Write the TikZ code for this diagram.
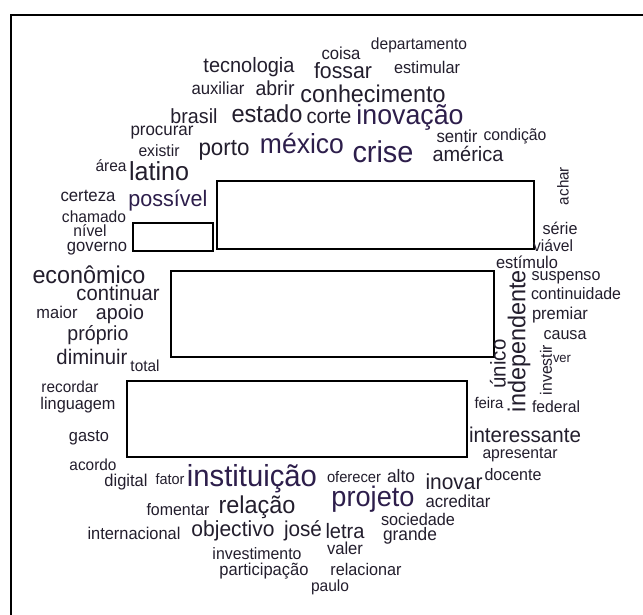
\documentclass[tikz,border=0pt]{standalone}
\usepackage{fontspec}
\usepackage{graphicx}
\setmainfont{Liberation Sans}
\definecolor{wordc}{RGB}{35,30,45}
\definecolor{bigc}{RGB}{45,30,75}
\newcommand\vst[1]{\scalebox{1}[1.04]{#1}}
\newcommand\wcw[5]{\node[wc] (#1) at (#2,#3) {\resizebox{#4pt}{!}{\vst{#5}}};}
\newcommand\wcb[5]{\node[wc,text=bigc] (#1) at (#2,#3) {\resizebox{#4pt}{!}{\vst{#5}}};}
\newcommand\wcr[5]{\node[wc,rotate=90] (#1) at (#2,#3) {\resizebox{#4pt}{!}{\vst{#5}}};}
\begin{document}
\begin{tikzpicture}[x=1pt,y=-1pt,
  wc/.style={inner sep=0pt,outer sep=0pt,text=wordc},
  box/.style={draw=black,line width=1.6pt,fill=none}]
\useasboundingbox (0,0) rectangle (643,615);
\fill[white] (0,0) rectangle (643,615);
% frame
\coordinate (fbl) at (11,615);
\coordinate (ftl) at (11,15);
\coordinate (ftr) at (643,15);
\draw[line width=2pt] (fbl) -- (ftl) -- (ftr);
% boxes
\node[box,minimum width=317pt,minimum height=68pt,anchor=north west] (b1) at (216,180) {};
\node[box,minimum width=80pt,minimum height=28pt,anchor=north west] (b2) at (132,222) {};
\node[box,minimum width=323pt,minimum height=86pt,anchor=north west] (b3) at (170,270) {};
\node[box,minimum width=340pt,minimum height=76pt,anchor=north west] (b4) at (126,380) {};
% words
\wcw{w1}{419}{45}{96}{departamento}
\wcw{w2}{341}{53}{39}{coisa}
\wcw{w3}{249}{67}{91}{tecnologia}
\wcw{w4}{343}{71}{58}{fossar}
\wcw{w5}{427}{67}{66}{estimular}
\wcw{w6}{218}{88}{53}{auxiliar}
\wcw{w7}{275}{88}{39}{abrir}
\wcw{w8}{373}{94}{145}{conhecimento}
\wcw{w9}{194}{116}{47}{brasil}
\wcw{w10}{267}{114}{71}{estado}
\wcw{w11}{329}{117}{45}{corte}
\wcb{w12}{410}{117}{107}{inovação}
\wcw{w13}{162}{133}{63}{procurar}
\wcw{w14}{457}{136}{41}{sentir}
\wcw{w15}{515}{136}{63}{condição}
\wcw{w16}{159}{151}{41}{existir}
\wcw{w17}{224}{150}{51}{porto}
\wcb{w18}{302}{143}{84}{méxico}
\wcb{w19}{383}{152}{61}{crise}
\wcw{w20}{468}{154}{71}{américa}
\wcw{w21}{111}{166}{31}{área}
\wcw{w22}{159}{171}{60}{latino}
\wcr{w23}{563}{186}{38}{achar}
\wcw{w24}{88}{196}{55}{certeza}
\wcb{w25}{168}{201}{79}{possível}
\wcw{w26}{94}{217}{64}{chamado}
\wcw{w27}{90}{231}{33}{nível}
\wcw{w28}{97}{249}{60}{governo}
\wcw{w29}{560}{228}{35}{série}
\wcw{w30}{553}{246}{40}{viável}
\wcw{w31}{527}{262}{62}{estímulo}
\wcw{w32}{89}{275}{113}{econômico}
\wcw{w33}{118}{293}{83}{continuar}
\wcw{w34}{57}{312}{41}{maior}
\wcw{w35}{120}{314}{48}{apoio}
\wcw{w36}{98}{335}{61}{próprio}
\wcw{w37}{92}{357}{71}{diminuir}
\wcw{w38}{145}{366}{29}{total}
\wcw{w39}{566}{278}{69}{suspenso}
\wcw{w40}{576}{294}{90}{continuidade}
\wcw{w41}{560}{315}{56}{premiar}
\wcw{w42}{565}{335}{43}{causa}
\wcr{w43}{546}{370}{50}{investir}
\wcw{w44}{562}{359}{18}{ver}
\wcr{w45}{498}{364}{49}{único}
\wcr{w46}{519}{341}{142}{independente}
\wcw{w47}{489}{403}{29}{feira}
\wcw{w48}{556}{407}{48}{federal}
\wcw{w49}{70}{387}{57}{recordar}
\wcw{w50}{78}{405}{75}{linguagem}
\wcw{w51}{89}{438}{40}{gasto}
\wcw{w52}{525}{435}{112}{interessante}
\wcw{w53}{520}{455}{75}{apresentar}
\wcw{w54}{93}{465}{47}{acordo}
\wcw{w55}{513}{475}{57}{docente}
\wcw{w56}{126}{482}{43}{digital}
\wcw{w57}{170}{479}{29}{fator}
\wcb{w58}{252}{479}{130}{instituição}
\wcw{w59}{354}{477}{54}{oferecer}
\wcw{w60}{401}{476}{28}{alto}
\wcw{w61}{454}{482}{57}{inovar}
\wcb{w62}{373}{499}{83}{projeto}
\wcw{w63}{458}{501}{65}{acreditar}
\wcw{w64}{178}{510}{63}{fomentar}
\wcw{w65}{257}{507}{77}{relação}
\wcw{w66}{418}{519}{74}{sociedade}
\wcw{w67}{134}{533}{93}{internacional}
\wcw{w68}{233}{531}{83}{objectivo}
\wcw{w69}{303}{531}{38}{josé}
\wcw{w70}{345}{531}{39}{letra}
\wcw{w71}{410}{536}{54}{grande}
\wcw{w72}{345}{548}{36}{valer}
\wcw{w73}{257}{554}{89}{investimento}
\wcw{w74}{264}{571}{89}{participação}
\wcw{w75}{366}{569}{71}{relacionar}
\wcw{w76}{330}{587}{38}{paulo}
\end{tikzpicture}
\end{document}
